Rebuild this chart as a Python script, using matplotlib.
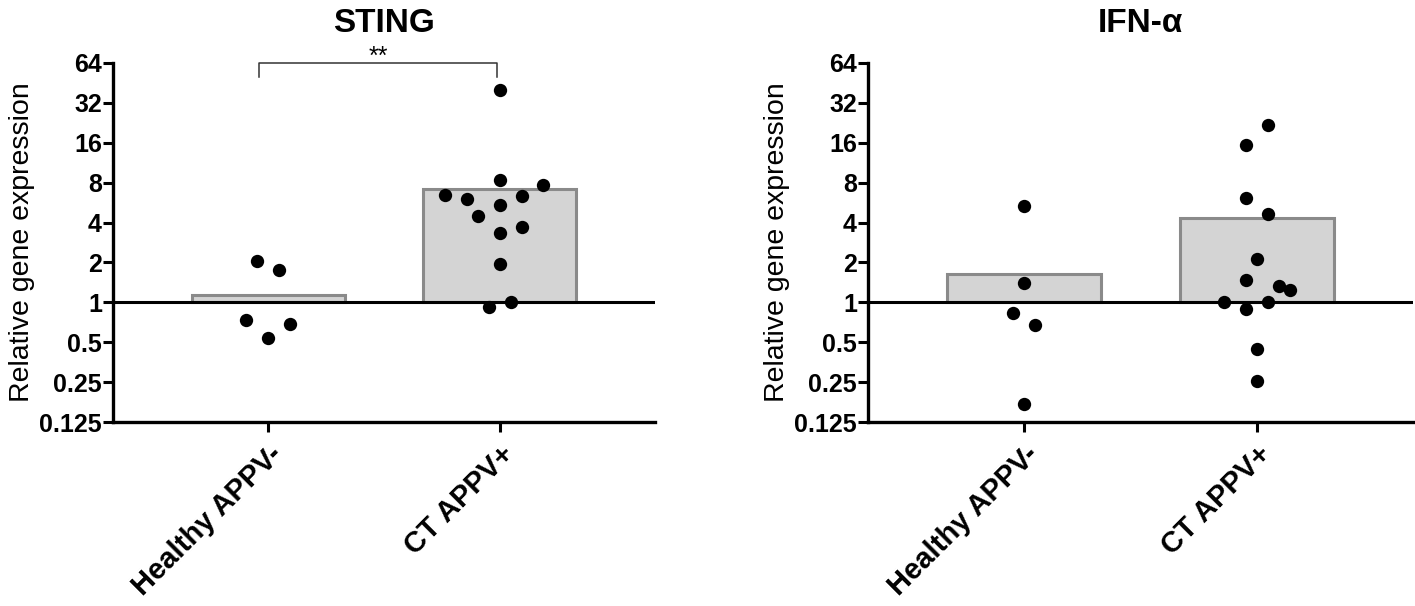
import matplotlib
matplotlib.use("Agg")
import matplotlib.pyplot as plt
import numpy as np

plt.rcParams['font.family'] = ['Liberation Sans', 'DejaVu Sans']

categories = ["Healthy APPV-", "CT APPV+"]
yticks = [0.125, 0.25, 0.5, 1, 2, 4, 8, 16, 32, 64]
ytick_labels = ["0.125", "0.25", "0.5", "1", "2", "4", "8", "16", "32", "64"]

# STING
sting_bar = [1.13, 7.2]
sting_healthy = [2.06, 1.74, 0.74, 0.69, 0.54]
sting_healthy_off = [-1, 1, -2, 2, 0]
sting_ct = [40.2, 8.4, 7.7, 6.46, 6.03, 6.3, 5.43, 4.51, 3.7, 3.34, 1.93, 1.0, 0.93]
sting_ct_off = [0, 0, 4, -5, -3, 2, 0, -2, 2, 0, 0, 1, -1]

# IFN-alpha
ifn_bar = [1.63, 4.31]
ifn_healthy = [5.37, 1.39, 0.83, 0.67, 0.17]
ifn_healthy_off = [0, 0, -1, 1, 0]
ifn_ct = [21.7, 15.5, 6.17, 4.62, 2.12, 1.47, 1.33, 1.24, 1.0, 1.0, 0.886, 0.445, 0.257]
ifn_ct_off = [1, -1, -1, 1, 0, -1, 2, 3, -3, 1, -1, 0, 0]

STEP = 0.047

fig = plt.figure(figsize=(14.15, 6.06), dpi=100)
ax1 = fig.add_axes([113/1415, 1-422/606, 542/1415, 359/606])
ax2 = fig.add_axes([868/1415, 1-422/606, 545/1415, 359/606])


def draw(ax, title, bars, groups, offs):
    x = np.arange(len(categories))
    ax.bar(x, [b - 1 for b in bars], bottom=1, width=0.66, color="#d4d4d4",
           edgecolor="#8a8a8a", linewidth=2.2, zorder=1)
    ax.axhline(1, color="black", lw=2.2, zorder=2)
    for i, (vals, off) in enumerate(zip(groups, offs)):
        xs = i + np.array(off) * STEP
        ax.scatter(xs, vals, s=92, color="black", zorder=3, linewidths=0)
    ax.set_yscale("log", base=2)
    ax.set_ylim(0.125, 64)
    ax.set_xlim(-0.67, 1.67)
    ax.set_yticks(yticks)
    ax.set_yticklabels(ytick_labels)
    ax.minorticks_off()
    ax.set_xticks(x)
    ax.set_xticklabels(categories, rotation=45, ha="right", rotation_mode="anchor",
                       fontsize=21, fontweight="bold")
    for lab in ax.get_yticklabels():
        lab.set_fontweight("bold")
        lab.set_fontsize(18)
    ax.tick_params(axis="both", width=2.2, length=7, color="black")
    ax.tick_params(axis="y", pad=1)
    ax.tick_params(axis="x", pad=6)
    for s in ["top", "right"]:
        ax.spines[s].set_visible(False)
    for s in ["left", "bottom"]:
        ax.spines[s].set_linewidth(2.4)
    ax.set_ylabel("Relative gene expression", fontsize=20.5, labelpad=3)
    ax.set_title(title, fontsize=24, fontweight="bold", pad=22)


draw(ax1, "STING", sting_bar, [sting_healthy, sting_ct], [sting_healthy_off, sting_ct_off])
draw(ax2, "IFN-α", ifn_bar, [ifn_healthy, ifn_ct], [ifn_healthy_off, ifn_ct_off])

# significance bracket
ax1.plot([-0.04, -0.04, 0.99, 0.99], [50.2, 64, 64, 50.2], color="#333333", lw=1.1,
         clip_on=False, zorder=4)
ax1.text(0.475, 58, "**", ha="center", va="bottom", fontsize=18, clip_on=False)

fig.savefig("out.png", dpi=100)
